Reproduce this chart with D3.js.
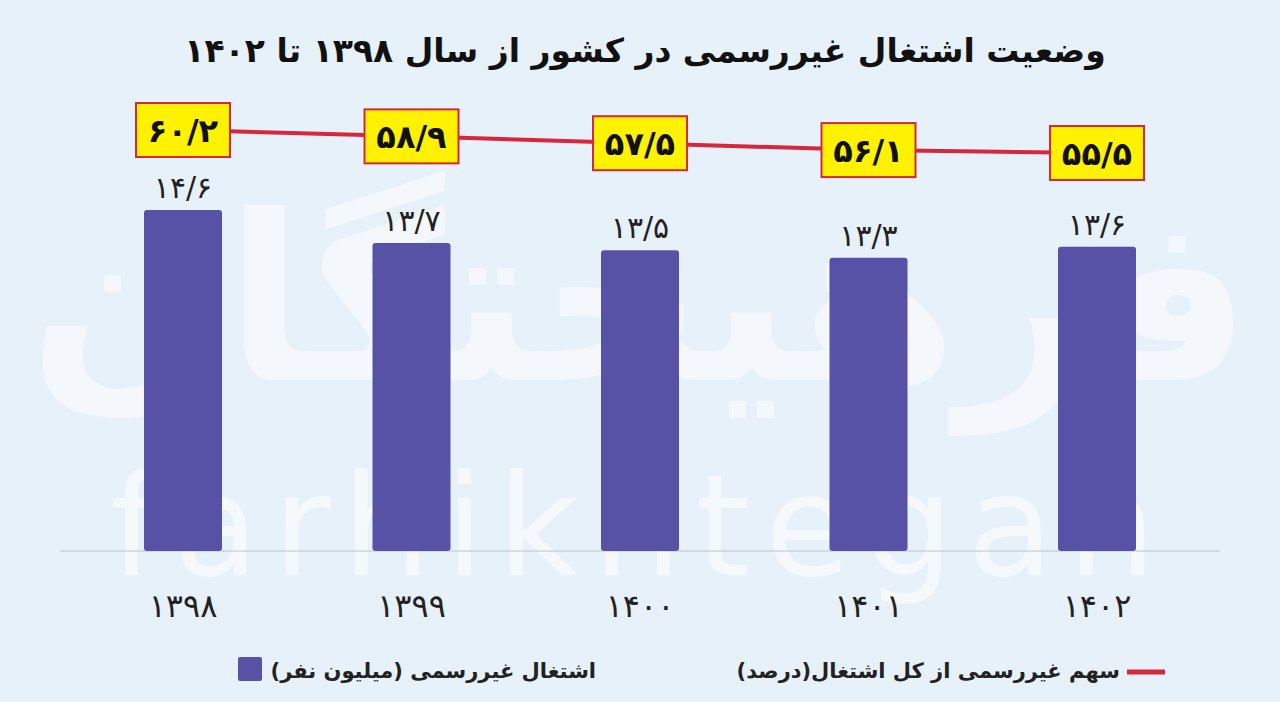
<!DOCTYPE html>
<html><head><meta charset="utf-8">
<script src="https://cdn.jsdelivr.net/npm/d3@7"></script>
<style>body{margin:0;background:#e7f1f9;}svg{display:block;font-family:"DejaVu Sans",sans-serif;}</style>
</head><body><svg id="c" width="1280" height="702"></svg>
<script>
// data
const years = ["۱۳۹۸", "۱۳۹۹", "۱۴۰۰", "۱۴۰۱", "۱۴۰۲"];
const jobs = [14.6, 13.7, 13.5, 13.3, 13.6];
const jobLabels = ["۱۴/۶", "۱۳/۷", "۱۳/۵", "۱۳/۳", "۱۳/۶"];
const share = [60.2, 58.9, 57.5, 56.1, 55.5];
const shareLabels = ["۶۰/۲", "۵۸/۹", "۵۷/۵", "۵۶/۱", "۵۵/۵"];

const svg = d3.select("#c");
svg.append("rect").attr("width", 1280).attr("height", 702).attr("fill", "#e7f1f9");

// watermark
svg.append("text").attr("x", 640).attr("y", 380).attr("text-anchor", "middle")
  .attr("font-size", 230).attr("font-weight", "bold").attr("fill", "#fff").attr("opacity", 0.55)
  .text("فرهیختگان");
svg.append("text").attr("x", 640).attr("y", 575).attr("text-anchor", "middle")
  .attr("font-size", 140).attr("letter-spacing", 14).attr("fill", "#fff").attr("opacity", 0.6)
  .text("farhikhtegan");

svg.append("text").attr("x", 645).attr("y", 62).attr("text-anchor", "middle")
  .attr("font-size", 33).attr("font-weight", "bold").attr("fill", "#111")
  .text("وضعیت اشتغال غیررسمی در کشور از سال ۱۳۹۸ تا ۱۴۰۲");

const x = d3.scalePoint().domain(years).range([183, 1097]);
const bw = 78;
const y = d3.scaleLinear().domain([5.3, 14.6]).range([551, 210]);
const y2 = d3.scaleLinear().domain([55.5, 60.2]).range([153, 130]);

svg.append("line").attr("x1", 60).attr("x2", 1220).attr("y1", 551).attr("y2", 551)
  .attr("stroke", "#b9c3cc").attr("stroke-width", 1);

svg.selectAll(".bar").data(jobs).join("rect")
  .attr("x", (d, i) => x(years[i]) - bw / 2).attr("width", bw)
  .attr("y", d => y(d)).attr("height", d => 551 - y(d))
  .attr("rx", 3).attr("fill", "#5852a6");

svg.selectAll(".bl").data(jobLabels).join("text")
  .attr("x", (d, i) => x(years[i])).attr("y", (d, i) => y(jobs[i]) - 12)
  .attr("text-anchor", "middle").attr("font-size", 30).attr("fill", "#222").text(d => d);

svg.selectAll(".yr").data(years).join("text")
  .attr("x", d => x(d)).attr("y", 617).attr("text-anchor", "middle")
  .attr("font-size", 32).attr("fill", "#222").text(d => d);

const line = d3.line().x((d, i) => x(years[i])).y(d => y2(d));
svg.append("path").datum(share).attr("d", line).attr("fill", "none")
  .attr("stroke", "#d7263d").attr("stroke-width", 4);

const g = svg.selectAll(".box").data(share).join("g")
  .attr("transform", (d, i) => `translate(${x(years[i])},${y2(d)})`);
g.append("rect").attr("x", -47).attr("y", -27).attr("width", 94).attr("height", 54)
  .attr("fill", "#fff200").attr("stroke", "#d7263d").attr("stroke-width", 2);
g.append("text").attr("y", 12).attr("text-anchor", "middle").attr("font-size", 32)
  .attr("font-weight", "bold").attr("fill", "#111").text((d, i) => shareLabels[i]);

// legend
svg.append("rect").attr("x", 238).attr("y", 657).attr("width", 24).attr("height", 24).attr("rx", 2).attr("fill", "#5852a6");
svg.append("text").attr("x", 596).attr("y", 678).attr("text-anchor", "end").attr("font-size", 21)
  .attr("font-weight", "bold").attr("fill", "#222").text("اشتغال غیررسمی (میلیون نفر)");
svg.append("line").attr("x1", 1127).attr("x2", 1165).attr("y1", 672).attr("y2", 672)
  .attr("stroke", "#d7263d").attr("stroke-width", 5);
svg.append("text").attr("x", 1120).attr("y", 678).attr("text-anchor", "end").attr("font-size", 21)
  .attr("font-weight", "bold").attr("fill", "#222").text("سهم غیررسمی از کل اشتغال(درصد)");
</script></body></html>
